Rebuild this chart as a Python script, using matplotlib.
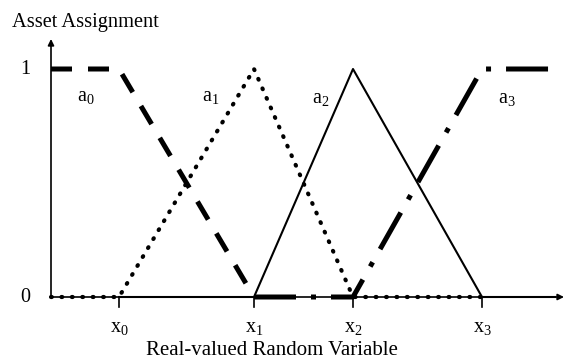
import matplotlib
matplotlib.use('Agg')
import matplotlib.pyplot as plt

plt.rcParams['font.family'] = ['Liberation Serif', 'DejaVu Serif']
plt.rcParams['mathtext.fontset'] = 'custom'
plt.rcParams['mathtext.rm'] = 'Liberation Serif'
plt.rcParams['mathtext.it'] = 'Liberation Serif'

# breakpoints on the real-valued axis
x_ticks = [6.8, 20.3, 30.2, 43.1]
x_labels = [r'x$_{\mathrm{0}}$', r'x$_{\mathrm{1}}$', r'x$_{\mathrm{2}}$', r'x$_{\mathrm{3}}$']
y_ticks = [0, 1]

# membership curves
a0_x = [0, 6.8, 20.3]
a0_y = [1, 1, 0]
a1_x = [0, 6.8, 20.3, 30.2, 43.1]
a1_y = [0, 0, 1, 0, 0]
a2_x = [6.8, 20.3, 30.2, 43.1, 50.4]
a2_y = [0, 0, 1, 0, 0]
a3_x = [20.3, 30.2, 43.1, 50.9]
a3_y = [0, 0, 1, 1]

curve_labels = [r'a$_{\mathrm{0}}$', r'a$_{\mathrm{1}}$', r'a$_{\mathrm{2}}$', r'a$_{\mathrm{3}}$']
label_x = [3.5, 16.0, 27.0, 45.6]
label_y = [0.88, 0.88, 0.87, 0.87]

W, H = 564, 362
fig = plt.figure(figsize=(W / 100, H / 100), dpi=100)
ax = fig.add_axes([51 / W, 65 / H, 513 / W, 258 / H])
ax.set_xlim(0, 51.3)
ax.set_ylim(0, 258 / 228)
ax.axis('off')

# axes with arrows
ax.annotate('', xy=(51.3, 0), xytext=(0, 0),
            arrowprops=dict(arrowstyle='-|>', lw=1.2, color='k', mutation_scale=9, shrinkA=0, shrinkB=0),
            annotation_clip=False)
ax.annotate('', xy=(0, 258 / 228), xytext=(0, 0),
            arrowprops=dict(arrowstyle='-|>', lw=1.2, color='k', mutation_scale=9, shrinkA=0, shrinkB=0),
            annotation_clip=False)

tick_len = 10 / 228
for xt, lab in zip(x_ticks, x_labels):
    ax.plot([xt, xt], [0, -tick_len], color='k', lw=1.2, clip_on=False)
    ax.text(xt, -0.135, lab, ha='center', va='center', fontsize=14.5)
for yt in y_ticks:
    ax.text(-2.6, yt, str(yt), ha='center', va='center', fontsize=14.5)

ax.plot(a0_x, a0_y, color='k', lw=3.6, linestyle=(0, (4.2, 3.2)), dash_capstyle='butt', clip_on=False)
ax.plot(a1_x, a1_y, color='k', lw=3.0, linestyle=(0, (0.2, 2.3)), dash_capstyle='round', clip_on=False)
ax.plot(a2_x, a2_y, color='k', lw=1.5, clip_on=False)
ax.plot(a3_x, a3_y, color='k', lw=3.6, linestyle=(0, (8.4, 3, 1, 3)), dash_capstyle='butt', clip_on=False)

for lx, ly, lab in zip(label_x, label_y, curve_labels):
    ax.text(lx, ly, lab, ha='center', va='center', fontsize=14.5)

fig.text(12 / W, 1 - 27 / H, 'Asset Assignment', ha='left', va='baseline', fontsize=14.7)
fig.text(272 / W, 1 - 355 / H, 'Real-valued Random Variable', ha='center', va='baseline', fontsize=15)

fig.savefig('out.png', dpi=100)
